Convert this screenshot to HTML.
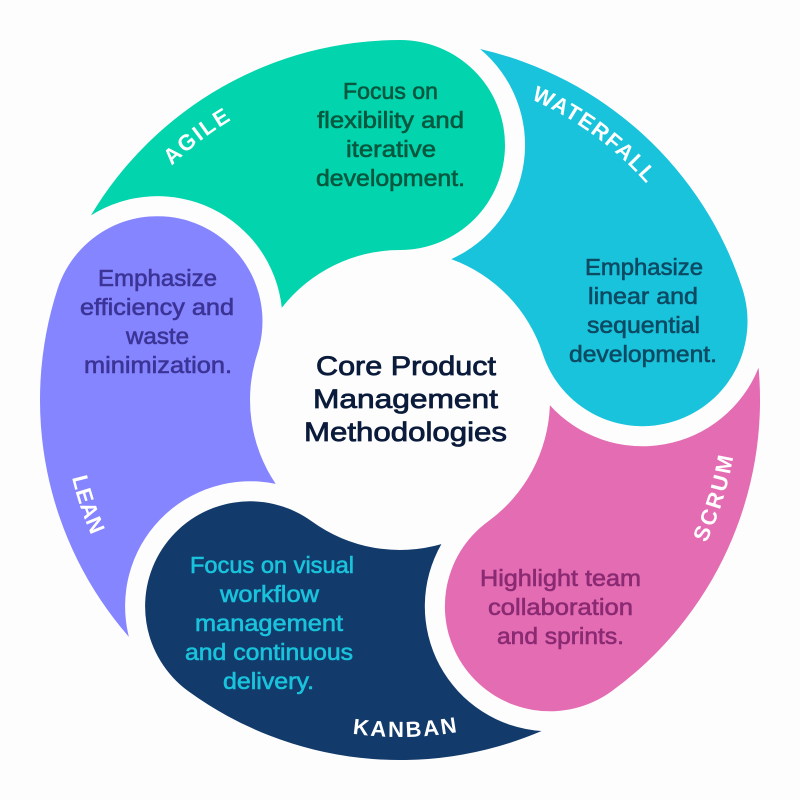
<!DOCTYPE html>
<html><head><meta charset="utf-8"><style>
html,body{margin:0;padding:0;background:#fdfdfd;width:800px;height:800px;overflow:hidden}
svg{display:block}
text{font-family:"Liberation Sans",sans-serif}
.b{font-size:23px;stroke-width:.6px}
.t{font-size:27px;fill:#0b1b3b;stroke:#0b1b3b;stroke-width:.8px}
.l{font-size:22px;font-weight:bold;fill:#fff;text-anchor:middle}
</style></head><body>
<svg width="800" height="800" viewBox="0 0 800 800" xmlns="http://www.w3.org/2000/svg">
<rect width="800" height="800" fill="#fdfdfd"/>
<defs>
<path id="pa" d="M153.2,185.5 A327,327 0 0 1 256.6,106.1"/>
<path id="pw" d="M509.5,90.8 A328,328 0 0 1 661.9,202.6"/>
<path id="ps" d="M692.7,569 A338,338 0 0 0 737,425.3"/>
<path id="pk" d="M324.2,728.4 A337,337 0 0 0 487.2,725.5"/>
<path id="pl" d="M66.3,446.9 A337,337 0 0 0 105.3,563.4"/>
</defs>
<path fill="#02d4ad" d="M90.9,215.4 A360,360 0 0 1 400,40 A105,105 0 0 1 505,145 A105,105 0 0 1 400,250 A150,150 0 0 0 281.8,307.7 A125,125 0 0 0 90.9,215.4 Z"/>
<path fill="#19c3dc" d="M480.05,48.98 A360,360 0 0 1 742.38,288.75 A105,105 0 0 1 674.97,421.06 A105,105 0 0 1 542.66,353.65 A150,150 0 0 0 451.25,259.07 A125,125 0 0 0 480.05,48.98 Z"/>
<path fill="#e46cb3" d="M758.58,367.66 A360,360 0 0 1 611.6,691.25 A105,105 0 0 1 464.94,668.02 A105,105 0 0 1 488.17,521.35 A150,150 0 0 0 549.88,405.19 A125,125 0 0 0 758.58,367.66 Z"/>
<path fill="#123a6b" d="M541.56,731.04 A360,360 0 0 1 188.4,691.25 A105,105 0 0 1 165.16,544.58 A105,105 0 0 1 311.83,521.35 A150,150 0 0 0 441.38,544.15 A125,125 0 0 0 541.56,731.04 Z"/>
<path fill="#8585ff" d="M128.91,636.92 A360,360 0 0 1 57.62,288.75 A105,105 0 0 1 189.93,221.34 A105,105 0 0 1 257.34,353.65 A150,150 0 0 0 275.69,483.89 A125,125 0 0 0 128.91,636.92 Z"/>

<text class="l" letter-spacing="2"><textPath href="#pa" startOffset="50%">AGILE</textPath></text>
<text class="l" letter-spacing="1.4"><textPath href="#pw" startOffset="50%">WATERFALL</textPath></text>
<text class="l" letter-spacing="2.5"><textPath href="#ps" startOffset="50%">SCRUM</textPath></text>
<text class="l" letter-spacing="2"><textPath href="#pk" startOffset="50%">KANBAN</textPath></text>
<text class="l" letter-spacing="0.3"><textPath href="#pl" startOffset="50%">LEAN</textPath></text>

<g fill="#06583f" stroke="#06583f">
<text class="b" x="343" y="99" textLength="95" lengthAdjust="spacingAndGlyphs">Focus on</text>
<text class="b" x="317" y="128" textLength="147" lengthAdjust="spacingAndGlyphs">flexibility and</text>
<text class="b" x="346" y="157" textLength="90" lengthAdjust="spacingAndGlyphs">iterative</text>
<text class="b" x="316" y="186" textLength="149" lengthAdjust="spacingAndGlyphs">development.</text>
</g>
<g fill="#0d4a63" stroke="#0d4a63">
<text class="b" x="585" y="275" textLength="118" lengthAdjust="spacingAndGlyphs">Emphasize</text>
<text class="b" x="588" y="304" textLength="110" lengthAdjust="spacingAndGlyphs">linear and</text>
<text class="b" x="587" y="333" textLength="113" lengthAdjust="spacingAndGlyphs">sequential</text>
<text class="b" x="569" y="362" textLength="148" lengthAdjust="spacingAndGlyphs">development.</text>
</g>
<g fill="#8a2a73" stroke="#8a2a73">
<text class="b" x="480" y="586" textLength="161" lengthAdjust="spacingAndGlyphs">Highlight team</text>
<text class="b" x="488" y="615" textLength="145" lengthAdjust="spacingAndGlyphs">collaboration</text>
<text class="b" x="497" y="644" textLength="127" lengthAdjust="spacingAndGlyphs">and sprints.</text>
</g>
<g fill="#3b3496" stroke="#3b3496">
<text class="b" x="98" y="286" textLength="119" lengthAdjust="spacingAndGlyphs">Emphasize</text>
<text class="b" x="80" y="315" textLength="154" lengthAdjust="spacingAndGlyphs">efficiency and</text>
<text class="b" x="126" y="344" textLength="63" lengthAdjust="spacingAndGlyphs">waste</text>
<text class="b" x="84" y="373" textLength="148" lengthAdjust="spacingAndGlyphs">minimization.</text>
</g>
<g fill="#19c3dc" stroke="#19c3dc">
<text class="b" x="190" y="573" textLength="164" lengthAdjust="spacingAndGlyphs">Focus on visual</text>
<text class="b" x="220" y="602" textLength="99" lengthAdjust="spacingAndGlyphs">workflow</text>
<text class="b" x="195" y="631" textLength="148" lengthAdjust="spacingAndGlyphs">management</text>
<text class="b" x="185" y="660" textLength="168" lengthAdjust="spacingAndGlyphs">and continuous</text>
<text class="b" x="223" y="689" textLength="91" lengthAdjust="spacingAndGlyphs">delivery.</text>
</g>
<text class="t" x="316" y="375" textLength="180" lengthAdjust="spacingAndGlyphs">Core Product</text>
<text class="t" x="313" y="408" textLength="185" lengthAdjust="spacingAndGlyphs">Management</text>
<text class="t" x="304" y="441" textLength="203" lengthAdjust="spacingAndGlyphs">Methodologies</text>
</svg>
</body></html>
